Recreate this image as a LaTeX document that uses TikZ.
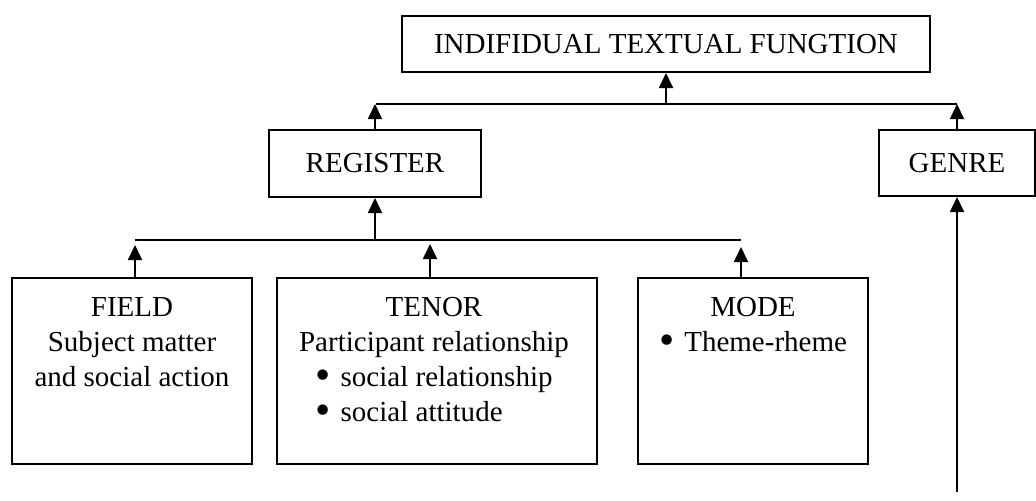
\documentclass[tikz,border=0pt]{standalone}
\usepackage{fontspec}
\usepackage{graphicx}
\setmainfont{Liberation Serif}
\usetikzlibrary{arrows.meta,positioning,calc}
\tikzset{
  >={Triangle[length=7.5pt,width=7pt]},
  block/.style={draw, line width=1pt, rectangle, inner sep=0pt},
  conn/.style={->, line width=0.9pt},
  txt/.style={align=center, inner sep=0pt, font=\fontsize{14.5}{17.5}\selectfont},
}
\newcommand{\bul}{\raisebox{-0.25ex}{\scalebox{1.5}{\textbullet}}\hspace{5pt}}

\begin{document}
\begin{tikzpicture}[x=0.5pt, y=-0.5pt]
  \useasboundingbox (0,0) rectangle (1036,500);

  % upper level
  \node[block, txt, minimum width=264pt, minimum height=28pt] (func) at (666,44) {INDIFIDUAL TEXTUAL FUNGTION};
  \node[block, txt, minimum width=106pt, minimum height=33.5pt] (register) at (375,163.5) {REGISTER};
  \node[block, txt, minimum width=78pt, minimum height=33pt] (genre) at (957,163) {GENRE};

  % lower level
  \node[block, minimum width=120pt, minimum height=93pt] (field) at (132,371) {};
  \node[block, minimum width=160pt, minimum height=93pt] (tenor) at (437,371) {};
  \node[block, minimum width=115pt, minimum height=93pt] (mode) at (753,371) {};

  \node[txt, anchor=north] (fieldtxt) at ([yshift=-10pt]field.north) {FIELD\\Subject matter\\and social action};
  \node[txt, anchor=north] (tenortxt) at ([xshift=-1.5pt, yshift=-10pt]tenor.north) {TENOR\\Participant relationship\\
    \begin{tabular}[t]{@{}l@{}}\bul social relationship\\\bul social attitude\end{tabular}};
  \node[txt, anchor=north] (modetxt) at ([yshift=-10pt]mode.north) {MODE\\\bul Theme-rheme};

  % upper bus
  \coordinate (upbusL) at (376,104);
  \coordinate (upbusR) at (957,104);
  \draw[line width=0.9pt] (upbusL) -- (upbusR);
  \draw[conn] (func.south |- upbusL) -- (func.south);
  \draw[conn] (register.north) -- (register.north |- upbusL);
  \draw[conn] (genre.north) -- (upbusR);

  % lower bus
  \coordinate (lowbusL) at (135,240);
  \coordinate (lowbusR) at (741,240);
  \draw[line width=0.9pt] (lowbusL) -- (lowbusR);
  \draw[conn] (register.south |- lowbusL) -- (register.south);
  \draw[conn, shorten >=2.5pt] (lowbusL |- field.north) -- (lowbusL);
  \draw[conn, shorten >=2pt] ([xshift=-3.5pt]tenor.north) -- ([xshift=-3.5pt]tenor.north |- lowbusL);
  \draw[conn, shorten >=3.5pt] (lowbusR |- mode.north) -- (lowbusR);

  % genre input
  \coordinate (genrein) at (957,492);
  \draw[conn] (genrein) -- (genre.south);
\end{tikzpicture}
\end{document}
